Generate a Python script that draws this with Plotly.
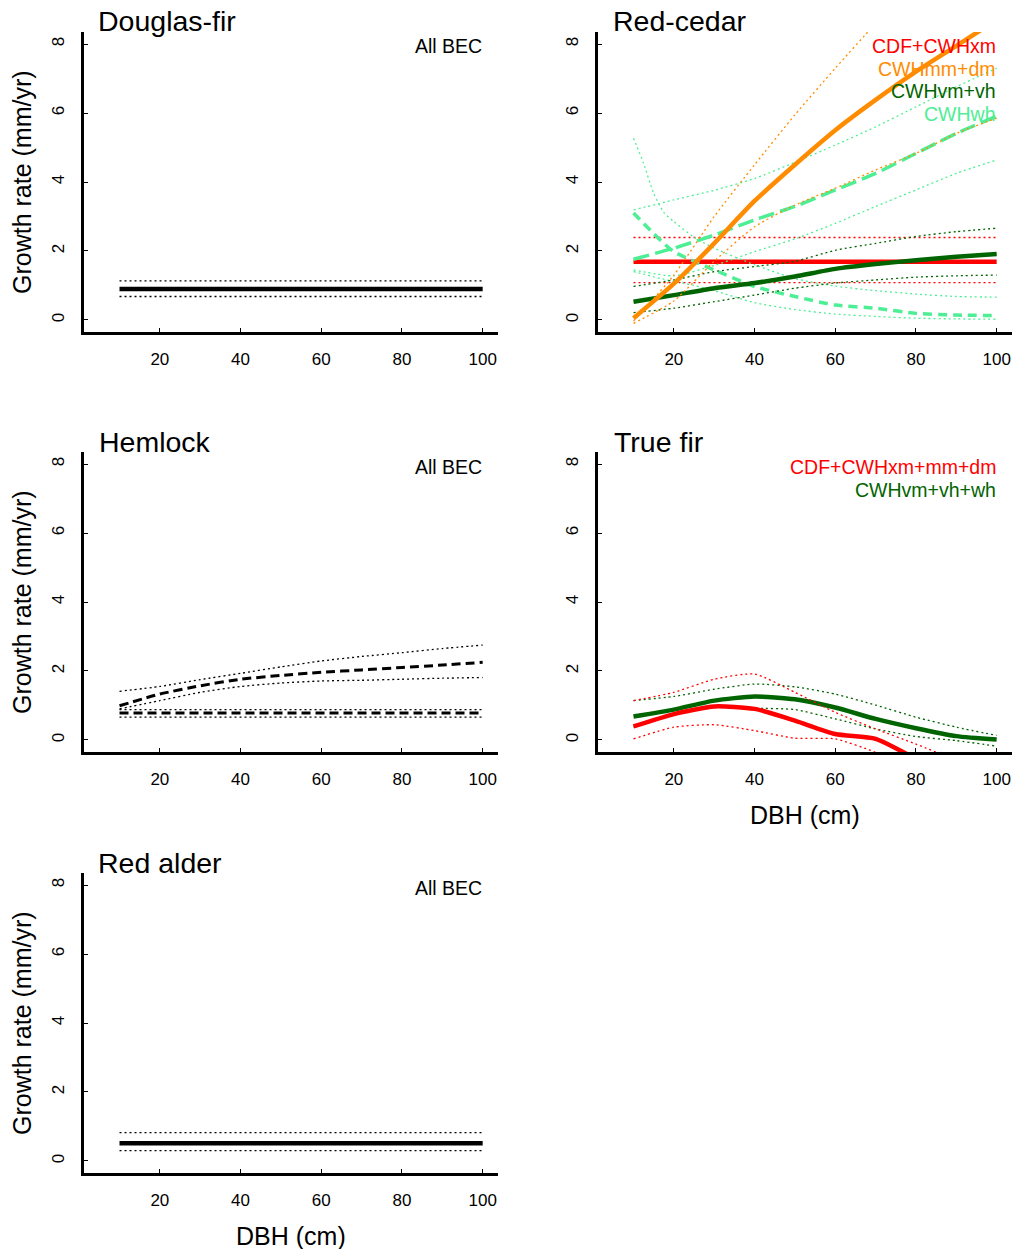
import plotly.graph_objects as go
from plotly.subplots import make_subplots

# ---------------- data ----------------
DBH = [10, 20, 30, 40, 50, 60, 70, 80, 90, 100]
DBH_FLAT = [10, 100]
DBH_DEC = [10, 12.5, 15, 17.5, 20, 25, 30, 40, 50, 60, 70, 80, 90, 100]

# Douglas-fir (All BEC)
df_mean = [0.90, 0.90]
df_hi = [1.13, 1.13]
df_lo = [0.68, 0.68]

# Red-cedar
rc_red_mean = [1.69, 1.69]
rc_red_hi = [2.39, 2.39]
rc_red_lo = [1.08, 1.08]

rc_or_mean = [0.05, 1.05, 2.22, 3.45, 4.50, 5.50, 6.38, 7.20, 7.95, 8.70]
rc_or_hi = [-0.03, 1.30, 3.00, 4.50, 5.95, 7.30, 8.60, 9.90, 11.20, 12.50]
rc_or_lo = [-0.10, 0.55, 1.70, 2.70, 3.33, 3.82, 4.35, 4.83, 5.41, 5.85]

rc_dg_mean = [0.53, 0.72, 0.92, 1.07, 1.26, 1.48, 1.62, 1.73, 1.83, 1.91]
rc_dg_hi = [0.97, 1.16, 1.40, 1.55, 1.70, 2.02, 2.22, 2.42, 2.56, 2.66]
rc_dg_lo = [0.21, 0.34, 0.53, 0.72, 0.92, 1.07, 1.16, 1.24, 1.28, 1.30]

rc_cy_inc_mean = [1.76, 2.08, 2.46, 2.90, 3.29, 3.77, 4.25, 4.83, 5.41, 5.91]
rc_cy_inc_hi = [3.19, 3.48, 3.76, 4.10, 4.57, 5.07, 5.60, 6.18, 6.76, 7.30]
rc_cy_inc_lo = [1.45, 1.28, 1.58, 1.98, 2.35, 2.80, 3.29, 3.77, 4.25, 4.64]

rc_cy_dec_mean = [3.10, 2.80, 2.50, 2.22, 1.98, 1.70, 1.45, 0.97, 0.68, 0.43, 0.34, 0.19, 0.14, 0.13]
rc_cy_dec_hi = [5.27, 4.54, 3.67, 3.12, 2.85, 2.40, 2.08, 1.60, 1.20, 0.98, 0.85, 0.75, 0.68, 0.66]
rc_cy_dec_lo = [1.40, 1.33, 1.25, 1.18, 1.12, 1.00, 0.85, 0.50, 0.30, 0.17, 0.10, 0.05, 0.03, 0.02]

# Hemlock (All BEC)
hm_inc_mean = [0.99, 1.33, 1.57, 1.76, 1.87, 1.96, 2.03, 2.10, 2.17, 2.25]
hm_inc_hi = [1.41, 1.55, 1.75, 1.93, 2.12, 2.29, 2.42, 2.53, 2.65, 2.75]
hm_inc_lo = [0.90, 1.14, 1.38, 1.55, 1.65, 1.71, 1.73, 1.76, 1.79, 1.81]
hm_flat_mean = [0.78, 0.78]
hm_flat_hi = [0.88, 0.88]
hm_flat_lo = [0.66, 0.66]

# True fir
tf_red_mean = [0.39, 0.75, 0.97, 0.90, 0.56, 0.17, 0.03, -0.55, -1.20, -2.00]
tf_red_hi = [1.14, 1.38, 1.76, 1.91, 1.38, 0.80, 0.32, -0.12, -0.60, -1.20]
tf_red_lo = [0.03, 0.37, 0.44, 0.27, 0.05, 0.03, -0.36, -0.90, -1.50, -2.20]
tf_dg_mean = [0.68, 0.88, 1.14, 1.26, 1.18, 0.94, 0.61, 0.34, 0.11, 0.01]
tf_dg_hi = [1.14, 1.26, 1.47, 1.62, 1.54, 1.33, 1.01, 0.66, 0.37, 0.13]
tf_dg_lo = [0.37, 0.72, 0.94, 0.92, 0.88, 0.61, 0.32, 0.10, -0.02, -0.18]

# Red alder (All BEC)
ra_mean = [0.51, 0.51]
ra_hi = [0.82, 0.82]
ra_lo = [0.30, 0.30]

X_TICKS = [20, 40, 60, 80, 100]
Y_TICKS = [0, 2, 4, 6, 8]
PANEL_TITLES = ["Douglas-fir", "Red-cedar", "Hemlock", "True fir", "Red alder"]
RC_LEGEND = ["CDF+CWHxm", "CWHmm+dm", "CWHvm+vh", "CWHwh"]
TF_LEGEND = ["CDF+CWHxm+mm+dm", "CWHvm+vh+wh"]
Y_TITLE = "Growth rate (mm/yr)"
X_TITLE = "DBH (cm)"

# ---------------- figure ----------------
W, H = 1016, 1249
FONT = "Liberation Sans, Arial, sans-serif"
RED, ORANGE, DGREEN, CYAN = "#FF0000", "#FF8C00", "#006400", "#4EEE94"
DOT = "2px,3px"


def PX(px):
    return px / W


def PY(py):
    return 1 - py / H


fig = make_subplots(rows=3, cols=2,
                    specs=[[{}, {}], [{}, {}], [{}, None]])


def add(row, col, x, y, color, width, dash="solid"):
    fig.add_trace(go.Scatter(x=x, y=y, mode="lines", showlegend=False,
                             line=dict(color=color, width=width, dash=dash,
                                       shape="spline", smoothing=0.6),
                             hoverinfo="skip"), row=row, col=col)


def band(row, col, x, m, hi, lo, color, width, dash):
    add(row, col, x, hi, color, 1.3, DOT)
    add(row, col, x, lo, color, 1.3, DOT)
    add(row, col, x, m, color, width, dash)


# Douglas-fir
band(1, 1, DBH_FLAT, df_mean, df_hi, df_lo, "black", 4.5, "solid")
# Red-cedar
band(1, 2, DBH_FLAT, rc_red_mean, rc_red_hi, rc_red_lo, RED, 4.5, "solid")
band(1, 2, DBH, rc_cy_inc_mean, rc_cy_inc_hi, rc_cy_inc_lo, CYAN, 3.5, "16px,6px")
band(1, 2, DBH_DEC, rc_cy_dec_mean, rc_cy_dec_hi, rc_cy_dec_lo, CYAN, 3.5, "9px,6px")
band(1, 2, DBH, rc_dg_mean, rc_dg_hi, rc_dg_lo, DGREEN, 4.5, "solid")
band(1, 2, DBH, rc_or_mean, rc_or_hi, rc_or_lo, ORANGE, 4.5, "solid")
# Hemlock
band(2, 1, DBH, hm_inc_mean, hm_inc_hi, hm_inc_lo, "black", 3, "9px,5px")
band(2, 1, DBH_FLAT, hm_flat_mean, hm_flat_hi, hm_flat_lo, "black", 3, "9px,5px")
# True fir
band(2, 2, DBH, tf_dg_mean, tf_dg_hi, tf_dg_lo, DGREEN, 4.5, "solid")
band(2, 2, DBH, tf_red_mean, tf_red_hi, tf_red_lo, RED, 4.5, "solid")
# Red alder
band(3, 1, DBH_FLAT, ra_mean, ra_hi, ra_lo, "black", 4.5, "solid")

# panel geometry (reference pixels)
COLS = [(84, 498), (598, 1012)]
ROWS = [(32, 332), (452, 752), (873, 1173)]
cells = [(1, 1), (1, 2), (2, 1), (2, 2), (3, 1)]

ax_common = dict(showline=True, linewidth=3, linecolor="black", showgrid=False,
                 zeroline=False, ticks="inside", ticklen=4, tickwidth=1,
                 tickcolor="black", automargin=False,
                 tickfont=dict(family=FONT, size=17, color="black"))

annotations = []
TFONT = dict(family=FONT, size=25, color="black")
for i, (r, c) in enumerate(cells):
    n = "" if i == 0 else str(i + 1)
    x0, x1 = COLS[c - 1]
    y0, y1 = ROWS[r - 1]
    xa = dict(ax_common, domain=[PX(x0), PX(x1)], range=[1.2, 103.8],
              tickmode="array", tickvals=X_TICKS, ticklabelstandoff=10)
    ya = dict(ax_common, domain=[PY(y1), PY(y0)], range=[-0.35, 8.35],
              tickmode="array", tickvals=Y_TICKS, tickangle=-90, ticklabelstandoff=10)
    fig.update_layout({"xaxis" + n: xa, "yaxis" + n: ya})
    if (r, c) in [(2, 2), (3, 1)]:
        annotations.append(dict(text=X_TITLE, x=PX((x0 + x1) / 2), y=PY(y1 + 63),
                                xref="paper", yref="paper", xanchor="center",
                                yanchor="middle", showarrow=False, font=TFONT))
    if c == 1:
        annotations.append(dict(text=Y_TITLE, x=PX(22), y=PY((y0 + y1) / 2),
                                xref="paper", yref="paper", xanchor="center",
                                yanchor="middle", textangle=-90, showarrow=False,
                                font=TFONT))

title_pos = [(96, 21), (611, 21), (97, 442), (612, 442), (96, 863)]
for t, (px, py) in zip(PANEL_TITLES, title_pos):
    annotations.append(dict(text=t, x=PX(px), y=PY(py), xref="paper", yref="paper",
                            xanchor="left", yanchor="middle", showarrow=False,
                            font=dict(family=FONT, size=28.5, color="black")))
LFONT = 19.5
for py in [46, 467, 888]:
    annotations.append(dict(text="All BEC", x=PX(484), y=PY(py), xref="paper",
                            yref="paper", xanchor="right", yanchor="middle",
                            showarrow=False,
                            font=dict(family=FONT, size=LFONT, color="black")))
for t, colr, py in zip(RC_LEGEND, [RED, ORANGE, DGREEN, CYAN], [46, 69, 91, 114]):
    annotations.append(dict(text=t, x=PX(998), y=PY(py), xref="paper", yref="paper",
                            xanchor="right", yanchor="middle", showarrow=False,
                            font=dict(family=FONT, size=LFONT, color=colr)))
for t, colr, py in zip(TF_LEGEND, [RED, DGREEN], [467, 490]):
    annotations.append(dict(text=t, x=PX(998), y=PY(py), xref="paper", yref="paper",
                            xanchor="right", yanchor="middle", showarrow=False,
                            font=dict(family=FONT, size=LFONT, color=colr)))

fig.update_layout(width=W, height=H, margin=dict(l=0, r=0, t=0, b=0, autoexpand=False),
                  paper_bgcolor="white", plot_bgcolor="white",
                  font=dict(family=FONT, color="black"),
                  annotations=annotations, showlegend=False)

# remove the browser's default 8px page margin so the figure fills the window exactly
fig.write_html("out.html",
               config={"displayModeBar": False},
               post_script="document.body.style.margin='0px';"
                           "document.documentElement.style.overflow='hidden';")
